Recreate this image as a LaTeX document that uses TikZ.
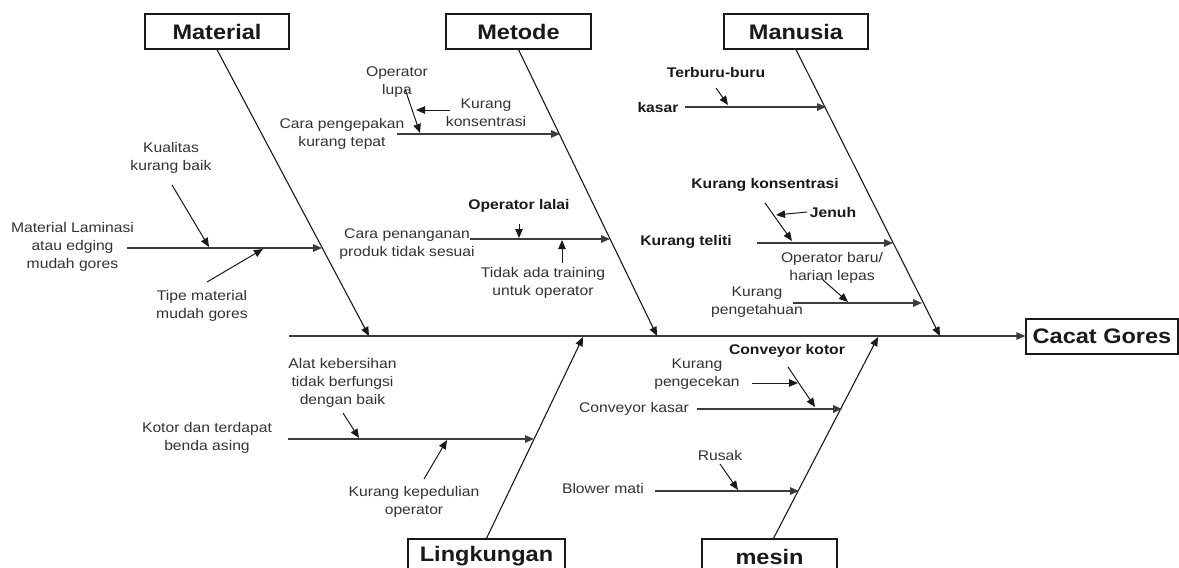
\documentclass[tikz,border=0pt]{standalone}
\usepackage{fontspec}
\setmainfont{Liberation Sans}[FakeStretch=1.12]
\usetikzlibrary{arrows.meta}
\definecolor{txt}{RGB}{50,50,50}
\definecolor{ink}{RGB}{25,25,25}
\definecolor{rib}{RGB}{60,60,60}
\tikzset{
  head/.style={-{Triangle[length=9pt,width=7.5pt]}},
  title/.style={draw=ink, line width=1.3pt, fill=white, text=ink,
    font=\fontsize{21}{24}\selectfont\bfseries, minimum height=35pt, inner sep=0pt},
  lbl/.style={font=\fontsize{14}{18}\selectfont, text=txt, align=center, inner sep=0pt},
  blbl/.style={font=\fontsize{14}{18}\selectfont\bfseries, text=ink, align=center, inner sep=0pt},
  bone/.style={draw=ink, line width=1.1pt, head},
  rib/.style={draw=rib, line width=1.5pt, head},
  twig/.style={draw=ink, line width=1pt, head},
}
\begin{document}
\begin{tikzpicture}[x=1pt, y=-1pt]
\useasboundingbox (0,0) rectangle (1179,568);

% category boxes and effect
\node[title, minimum width=144pt] (mat) at (217,31.5) {Material};
\node[title, minimum width=145pt] (met) at (518.5,31.5) {Metode};
\node[title, minimum width=144pt] (man) at (796,31.5) {Manusia};
\node[title, minimum width=157pt] (lin) at (486.5,556.5) {Lingkungan};
\node[title, minimum width=135pt] (mes) at (769.5,556.5) {mesin};
\node[title, minimum width=152pt] (cg) at (1102,336.5) {Cacat Gores};

% spine
\coordinate (tail) at (289,336);
\draw[draw=rib, line width=1.6pt, head] (tail) -- (cg.west |- 0,336);

% main bones
\coordinate (jmat) at (369,336);
\coordinate (jmet) at (657,336);
\coordinate (jman) at (940,336);
\coordinate (jlin) at (583,337);
\coordinate (jmes) at (878,337);
\draw[bone] (mat.south) -- (jmat);
\draw[bone] (met.south) -- (jmet);
\draw[bone] (man.south) -- (jman);
\draw[bone] (lin.north) -- (jlin);
\draw[bone] ([xshift=4pt]mes.north) -- (jmes);

% ---- Material ----
\node[lbl] (ml) at (72.5,247) {Material Laminasi\\atau edging\\mudah gores};
\coordinate (ml0) at (127,248);
\coordinate (ml1) at (322,248);
\draw[rib] (ml0) -- (ml1);
\node[lbl] (kual) at (171,158) {Kualitas\\kurang baik};
\coordinate (kual0) at (172,185);
\coordinate (kual1) at (209,247);
\draw[twig] (kual0) -- (kual1);
\node[lbl] (tipe) at (202,306) {Tipe material\\mudah gores};
\coordinate (tipe0) at (207,282);
\coordinate (tipe1) at (263,249);
\draw[twig] (tipe0) -- (tipe1);

% ---- Metode ----
\node[lbl] (peng) at (342,133.5) {Cara pengepakan\\kurang tepat};
\coordinate (peng0) at (397,134);
\coordinate (peng1) at (560,134);
\draw[rib] (peng0) -- (peng1);
\node[lbl] (lupa) at (397,82.5) {Operator\\lupa};
\coordinate (lupa0) at (405,89);
\coordinate (lupa1) at (420,133);
\draw[twig] (lupa0) -- (lupa1);
\node[lbl] (kons) at (486,112.5) {Kurang\\konsentrasi};
\coordinate (kons0) at (450,110);
\coordinate (kons1) at (416,110);
\draw[twig] (kons0) -- (kons1);

\node[lbl] (pena) at (407,244.5) {Cara penanganan\\produk tidak sesuai};
\coordinate (pena0) at (470,239);
\coordinate (pena1) at (610,239);
\draw[rib] (pena0) -- (pena1);
\node[blbl] (lalai) at (519,206) {Operator lalai};
\coordinate (lalai0) at (519,224);
\coordinate (lalai1) at (519,238);
\draw[twig] (lalai0) -- (lalai1);
\node[lbl] (train) at (543,283) {Tidak ada training\\untuk operator};
\coordinate (train0) at (562,263);
\coordinate (train1) at (562,240);
\draw[twig] (train0) -- (train1);

% ---- Manusia ----
\node[blbl] (kasar) at (658,107) {kasar};
\coordinate (kasar0) at (685,107);
\coordinate (kasar1) at (826,107);
\draw[rib] (kasar0) -- (kasar1);
\node[blbl] (buru) at (716,72) {Terburu-buru};
\coordinate (buru0) at (716,88);
\coordinate (buru1) at (728,105);
\draw[twig] (buru0) -- (buru1);

\node[blbl] (teliti) at (686,242) {Kurang teliti};
\coordinate (teliti0) at (757,243);
\coordinate (teliti1) at (893,243);
\draw[rib] (teliti0) -- (teliti1);
\node[blbl] (kk) at (765,185) {Kurang konsentrasi};
\coordinate (kk0) at (765,203);
\coordinate (kk1) at (792,241);
\draw[twig] (kk0) -- (kk1);
\node[blbl] (jenuh) at (833,212) {Jenuh};
\coordinate (jenuh0) at (807,212);
\coordinate (jenuh1) at (776,215);
\draw[twig] (jenuh0) -- (jenuh1);

\node[lbl] (tahu) at (757,302) {Kurang\\pengetahuan};
\coordinate (tahu0) at (793,303);
\coordinate (tahu1) at (922,303);
\draw[rib] (tahu0) -- (tahu1);
\node[lbl] (baru) at (832,267.5) {Operator baru/\\harian lepas};
\coordinate (baru0) at (823,280);
\coordinate (baru1) at (848,302);
\draw[twig] (baru0) -- (baru1);

% ---- Lingkungan ----
\node[lbl] (kotor) at (207,437.5) {Kotor dan terdapat\\benda asing};
\coordinate (kotor0) at (288,439);
\coordinate (kotor1) at (534,439);
\draw[rib] (kotor0) -- (kotor1);
\node[lbl] (alat) at (342.5,383) {Alat kebersihan\\tidak berfungsi\\dengan baik};
\coordinate (alat0) at (343,413);
\coordinate (alat1) at (359,438);
\draw[twig] (alat0) -- (alat1);
\node[lbl] (pedu) at (414,502) {Kurang kepedulian\\operator};
\coordinate (pedu0) at (424,479);
\coordinate (pedu1) at (447,440);
\draw[twig] (pedu0) -- (pedu1);

% ---- mesin ----
\node[lbl] (ckasar) at (634,409) {Conveyor kasar};
\coordinate (ckasar0) at (697,409);
\coordinate (ckasar1) at (842,409);
\draw[rib] (ckasar0) -- (ckasar1);
\node[blbl] (ckotor) at (787,351) {Conveyor kotor};
\coordinate (ckotor0) at (788,367);
\coordinate (ckotor1) at (815,407);
\draw[twig] (ckotor0) -- (ckotor1);
\node[lbl] (cek) at (697,374) {Kurang\\pengecekan};
\coordinate (cek0) at (752,383);
\coordinate (cek1) at (798,383);
\draw[twig] (cek0) -- (cek1);

\node[lbl] (blower) at (603,488) {Blower mati};
\coordinate (blower0) at (655,491);
\coordinate (blower1) at (799,491);
\draw[rib] (blower0) -- (blower1);
\node[lbl] (rusak) at (720,455) {Rusak};
\coordinate (rusak0) at (720,464);
\coordinate (rusak1) at (738,490);
\draw[twig] (rusak0) -- (rusak1);
\end{tikzpicture}
\end{document}
